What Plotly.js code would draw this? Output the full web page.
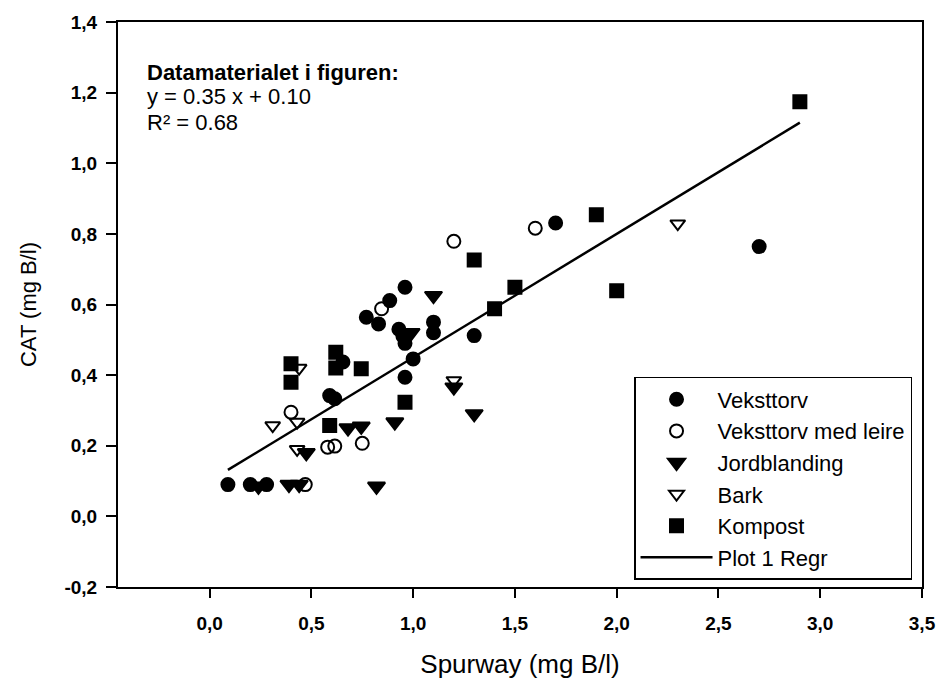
<!DOCTYPE html>
<html>
<head>
<meta charset="utf-8">
<script src="https://cdn.plot.ly/plotly-3.0.1.min.js"></script>
<style>html,body{margin:0;padding:0;background:#fff;}#chart{width:942px;height:684px;}</style>
</head>
<body>
<div id="chart"></div>
<script>
// Veksttorv (filled circles)
const vekstX = [0.09, 0.20, 0.28, 0.59, 0.615, 0.655, 0.77, 0.83, 0.885, 0.96, 0.93, 0.95, 0.96, 1.0, 0.96, 1.1, 1.1, 1.3, 1.7, 2.7];
const vekstY = [0.09, 0.09, 0.09, 0.342, 0.333, 0.437, 0.564, 0.545, 0.611, 0.649, 0.53, 0.51, 0.49, 0.446, 0.394, 0.55, 0.52, 0.512, 0.831, 0.764];
// Veksttorv med leire (open circles)
const leireX = [0.40, 0.47, 0.58, 0.615, 0.75, 0.845, 1.2, 1.6];
const leireY = [0.295, 0.09, 0.196, 0.199, 0.207, 0.588, 0.779, 0.816];
// Jordblanding (filled down triangles)
const jordX = [0.24, 0.39, 0.44, 0.475, 0.68, 0.745, 0.82, 0.91, 0.99, 1.1, 1.2, 1.3];
const jordY = [0.085, 0.09, 0.09, 0.18, 0.25, 0.255, 0.085, 0.267, 0.52, 0.625, 0.366, 0.29];
// Bark (open down triangles)
const barkX = [0.31, 0.43, 0.43, 0.44, 1.2, 2.3];
const barkY = [0.257, 0.267, 0.19, 0.42, 0.385, 0.829];
// Kompost (squares)
const kompX = [0.40, 0.40, 0.59, 0.62, 0.62, 0.745, 0.96, 1.3, 1.4, 1.5, 1.9, 2.0, 2.9];
const kompY = [0.432, 0.38, 0.257, 0.465, 0.42, 0.418, 0.323, 0.726, 0.588, 0.649, 0.854, 0.639, 1.174];
// Regression
const regSlope = 0.35;
const regIntercept = 0.10;
const regX = [0.09, 2.9];
const regY = regX.map(x => regSlope * x + regIntercept);

const xTicks = [0, 0.5, 1, 1.5, 2, 2.5, 3, 3.5];
const xTickText = ['0,0', '0,5', '1,0', '1,5', '2,0', '2,5', '3,0', '3,5'];
const yTicks = [-0.2, 0, 0.2, 0.4, 0.6, 0.8, 1.0, 1.2, 1.4];
const yTickText = ['-0,2', '0,0', '0,2', '0,4', '0,6', '0,8', '1,0', '1,2', '1,4'];

const FONT = 'Liberation Sans, Arial, sans-serif';

function sc(name, x, y, symbol, size, group) {
  return {
    type: 'scatter', mode: 'markers', name: name, x: x, y: y, legendgroup: group,
    marker: {symbol: symbol, size: size, color: 'black', line: {color: 'black', width: 2}},
    cliponaxis: false
  };
}

const traces = [
  sc('Veksttorv', vekstX, vekstY, 'circle', 13, 'a'),
  sc('Veksttorv med leire', leireX, leireY, 'circle-open', 13, 'b'),
  sc('Jordblanding', jordX, jordY, 'triangle-down', 15, 'c'),
  sc('Bark', barkX, barkY, 'triangle-down-open', 13, 'd'),
  sc('Kompost', kompX, kompY, 'square', 13, 'e'),
  {type: 'scatter', mode: 'lines', name: 'Plot 1 Regr', x: regX, y: regY, legendgroup: 'f',
   line: {color: 'black', width: 2.5}}
];

function note(text, y, bold) {
  return {xref: 'paper', yref: 'paper', x: 0.035, y: y, xanchor: 'left', yanchor: 'middle',
    align: 'left', showarrow: false, borderpad: 0,
    font: {family: FONT, size: 22, color: 'black', weight: bold ? 'bold' : 'normal'},
    text: text};
}

const layout = {
  width: 942, height: 684,
  margin: {l: 118, r: 20, t: 22, b: 97},
  paper_bgcolor: 'white', plot_bgcolor: 'white',
  font: {family: FONT, size: 16, color: 'black'},
  showlegend: true,
  legend: {
    x: 0.9876, xanchor: 'right', y: 0.0124, yanchor: 'bottom',
    bordercolor: 'black', borderwidth: 1.5, bgcolor: 'white',
    font: {family: FONT, size: 22, color: 'black'},
    itemwidth: 72, tracegroupgap: 0,
    traceorder: 'normal'
  },
  xaxis: {
    range: [-0.45, 3.5], tickvals: xTicks, ticktext: xTickText,
    ticks: 'outside', ticklen: 9, tickwidth: 2, tickcolor: 'black',
    ticklabelstandoff: 9,
    showline: true, linecolor: 'black', linewidth: 2, mirror: true,
    showgrid: false, zeroline: false,
    tickfont: {family: FONT, size: 19, weight: 'bold'},
    title: {text: 'Spurway (mg B/l)', font: {family: FONT, size: 26}, standoff: 22}
  },
  yaxis: {
    range: [-0.2, 1.4], tickvals: yTicks, ticktext: yTickText,
    ticks: 'outside', ticklen: 10, tickwidth: 2, tickcolor: 'black',
    ticklabelstandoff: 5,
    showline: true, linecolor: 'black', linewidth: 2, mirror: true,
    showgrid: false, zeroline: false,
    tickfont: {family: FONT, size: 19, weight: 'bold'},
    title: {text: 'CAT (mg B/l)', font: {family: FONT, size: 22}, standoff: 22}
  },
  annotations: [
    note('Datamaterialet i figuren:', 0.9115, true),
    note('y = 0.35 x + 0.10', 0.8673, false),
    note('R² = 0.68', 0.8230, false)
  ]
};

Plotly.newPlot('chart', traces, layout, {displayModeBar: false, staticPlot: true});
</script>
</body>
</html>
